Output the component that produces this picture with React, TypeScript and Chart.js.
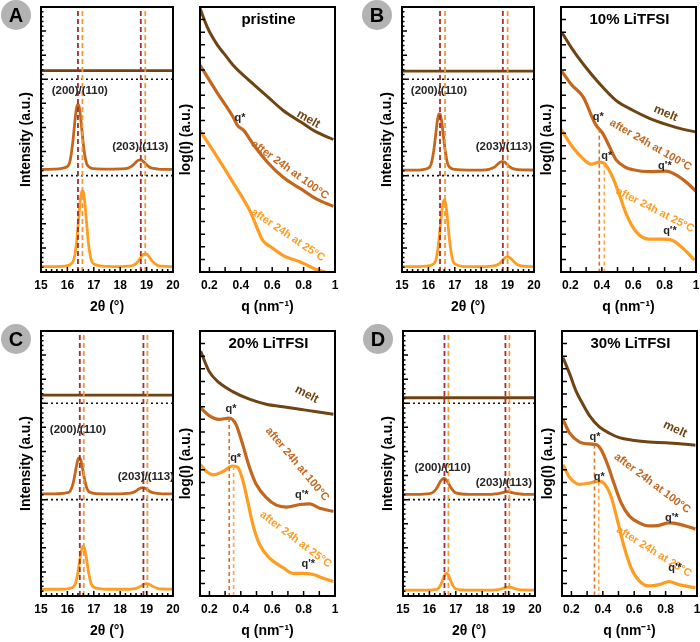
import { useEffect, useRef } from "react";
import { Chart, registerables } from "chart.js";

Chart.register(...registerables);

const FONT = "'Liberation Sans', Arial, Helvetica, sans-serif";

const MELT = "#6f4412";
const HOT = "#c4661c";
const COLD = "#ff9c22";
const RED_DASH = "#a0302e";
const ORANGE_DASH = "#f39a35";
const QDASH_HOT = "#d9742e";
const QDASH_COLD = "#ffa545";
const INK = "#262626";

// ---------- WAXS (2θ) ----------
const twoTheta = [15, 15.5, 16, 16.1, 16.2, 16.25, 16.3, 16.35, 16.4, 16.45, 16.5, 16.55, 16.6, 16.65, 16.7, 16.75, 16.8, 16.9, 17, 17.5, 18, 18.3, 18.5, 18.6, 18.7, 18.8, 18.9, 19, 19.1, 19.2, 19.4, 19.6, 20];
const twoThetaTicks = [15, 16, 17, 18, 19, 20];
const twoThetaLabels = ["15", "16", "17", "18", "19", "20"];
const meltRange = [15, 20];

const waxsPristineMelt = [8.36, 8.36];
const waxsPristine100 = [4.26, 4.27, 4.38, 4.61, 5.34, 5.88, 6.42, 6.83, 6.96, 6.83, 6.42, 5.88, 5.34, 4.91, 4.61, 4.45, 4.38, 4.31, 4.29, 4.27, 4.28, 4.31, 4.45, 4.56, 4.64, 4.64, 4.56, 4.45, 4.36, 4.31, 4.28, 4.26, 4.26];
const waxsPristine25 = [0.22, 0.22, 0.26, 0.3, 0.41, 0.54, 0.82, 1.27, 1.87, 2.51, 3.08, 3.37, 3.34, 2.99, 2.38, 1.75, 1.17, 0.51, 0.33, 0.23, 0.22, 0.24, 0.28, 0.35, 0.47, 0.63, 0.74, 0.74, 0.63, 0.47, 0.28, 0.24, 0.22];

const waxsLi10Melt = [8.34, 8.34];
const waxsLi10_100 = [4.23, 4.23, 4.32, 4.47, 5.01, 5.45, 5.92, 6.35, 6.56, 6.53, 6.27, 5.83, 5.36, 4.94, 4.63, 4.44, 4.36, 4.28, 4.26, 4.23, 4.23, 4.26, 4.35, 4.45, 4.55, 4.58, 4.55, 4.45, 4.35, 4.29, 4.25, 4.24, 4.23];
const waxsLi10_25 = [0.22, 0.22, 0.25, 0.28, 0.34, 0.41, 0.58, 0.88, 1.33, 1.88, 2.44, 2.85, 2.99, 2.85, 2.44, 1.88, 1.33, 0.58, 0.34, 0.22, 0.22, 0.23, 0.26, 0.29, 0.36, 0.47, 0.59, 0.63, 0.59, 0.47, 0.29, 0.24, 0.22];

const waxsLi20Melt = [8.34, 8.34];
const waxsLi20_100 = [4.24, 4.24, 4.29, 4.35, 4.6, 4.84, 5.14, 5.44, 5.67, 5.74, 5.67, 5.44, 5.14, 4.84, 4.6, 4.44, 4.35, 4.29, 4.26, 4.24, 4.24, 4.26, 4.3, 4.36, 4.44, 4.49, 4.49, 4.44, 4.36, 4.3, 4.26, 4.24, 4.24];
const waxsLi20_25 = [0.28, 0.28, 0.3, 0.32, 0.36, 0.41, 0.51, 0.71, 1.0, 1.35, 1.71, 1.98, 2.07, 1.98, 1.71, 1.35, 1.0, 0.51, 0.36, 0.28, 0.28, 0.28, 0.3, 0.32, 0.36, 0.42, 0.49, 0.51, 0.49, 0.42, 0.32, 0.29, 0.28];

const waxsLi30Melt = [8.23, 8.23];
const waxsLi30_100 = [4.22, 4.22, 4.25, 4.28, 4.37, 4.43, 4.52, 4.62, 4.72, 4.8, 4.86, 4.88, 4.86, 4.8, 4.72, 4.62, 4.52, 4.37, 4.28, 4.22, 4.22, 4.22, 4.24, 4.25, 4.27, 4.3, 4.33, 4.33, 4.3, 4.27, 4.24, 4.22, 4.22];
const waxsLi30_25 = [0.24, 0.24, 0.24, 0.25, 0.26, 0.27, 0.29, 0.33, 0.41, 0.52, 0.66, 0.8, 0.91, 0.94, 0.91, 0.8, 0.66, 0.41, 0.29, 0.24, 0.24, 0.24, 0.25, 0.26, 0.29, 0.32, 0.36, 0.37, 0.36, 0.32, 0.26, 0.25, 0.24];

// reflection positions (2θ) of the 100 °C and 25 °C samples
const reflPristine100 = [16.4, 18.78];
const reflPristine25 = [16.57, 18.95];
const reflLi10_100 = [16.44, 18.82];
const reflLi10_25 = [16.63, 19.0];
const reflLi20_100 = [16.47, 18.88];
const reflLi20_25 = [16.62, 19.03];
const reflLi30_100 = [16.57, 18.88];
const reflLi30_25 = [16.72, 19.03];

// ---------- SAXS (q) ----------
const qTicks = [0.2, 0.4, 0.6, 0.8, 1];
const qLabels = ["0.2", "0.4", "0.6", "0.8", "1"];

const qPristineMelt = [0.14, 0.19, 0.25, 0.3, 0.35, 0.46, 0.57, 0.67, 0.78, 0.88, 0.99];
const iPristineMelt = [20.9, 19.3, 18.0, 17.2, 16.4, 15.1, 13.9, 12.8, 11.9, 11.1, 10.5];
const qPristine100 = [0.14, 0.25, 0.35, 0.38, 0.42, 0.48, 0.57, 0.67, 0.78, 0.88, 0.99];
const iPristine100 = [16.4, 14.2, 12.3, 11.6, 11.2, 10.1, 8.7, 7.5, 6.6, 5.8, 5.2];
const qPristine25 = [0.14, 0.25, 0.35, 0.46, 0.54, 0.59, 0.67, 0.78, 0.88, 0.94];
const iPristine25 = [11.2, 9.1, 7.1, 4.8, 2.5, 2.0, 1.3, 0.8, 0.2, 0.0];

const qLi10Melt = [0.145, 0.21, 0.28, 0.38, 0.49, 0.6, 0.7, 0.81, 0.92, 1.0];
const iLi10Melt = [19.0, 17.7, 16.5, 15.0, 13.6, 12.8, 12.2, 11.7, 11.3, 11.1];
const qLi10_100 = [0.145, 0.21, 0.28, 0.36, 0.405, 0.45, 0.49, 0.55, 0.6, 0.7, 0.81, 0.92, 1.0];
const iLi10_100 = [15.9, 14.8, 13.9, 11.7, 11.0, 9.9, 8.9, 8.3, 8.1, 7.95, 8.0, 7.3, 6.4];
const qLi10_25 = [0.14, 0.214, 0.278, 0.331, 0.384, 0.416, 0.458, 0.501, 0.554, 0.618, 0.703, 0.788, 0.851, 0.915, 0.99];
const iLi10_25 = [11.3, 9.9, 9.0, 8.55, 8.7, 8.6, 7.8, 6.5, 4.65, 3.2, 2.6, 2.6, 2.5, 1.9, 0.95];

const qLi20Melt = [0.144, 0.198, 0.262, 0.348, 0.455, 0.562, 0.669, 0.776, 0.883, 0.99];
const iLi20Melt = [19.4, 17.8, 16.9, 16.2, 15.6, 15.2, 15.0, 14.8, 14.6, 14.4];
const qLi20_100 = [0.144, 0.198, 0.262, 0.326, 0.369, 0.412, 0.455, 0.498, 0.562, 0.626, 0.69, 0.776, 0.84, 0.904, 0.99];
const iLi20_100 = [14.9, 14.3, 14.0, 14.1, 13.6, 12.0, 10.2, 8.85, 7.8, 7.2, 7.05, 7.25, 7.3, 6.95, 6.7];
const qLi20_25 = [0.144, 0.187, 0.23, 0.283, 0.348, 0.38, 0.412, 0.444, 0.476, 0.519, 0.583, 0.669, 0.733, 0.797, 0.862, 0.926, 0.99];
const iLi20_25 = [10.4, 9.8, 9.6, 9.85, 10.3, 10.2, 9.2, 7.5, 5.7, 4.1, 3.0, 2.25, 1.8, 1.8, 1.7, 1.4, 1.15];

const qLi30Melt = [0.146, 0.189, 0.231, 0.273, 0.315, 0.378, 0.442, 0.505, 0.589, 0.695, 0.8, 0.906, 0.99];
const iLi30Melt = [18.9, 17.6, 16.2, 15.2, 14.3, 13.4, 12.9, 12.55, 12.35, 12.2, 12.15, 12.05, 11.95];
const qLi30_100 = [0.146, 0.189, 0.252, 0.315, 0.357, 0.389, 0.431, 0.473, 0.516, 0.568, 0.632, 0.695, 0.758, 0.821, 0.885, 0.99];
const iLi30_100 = [14.0, 12.9, 12.2, 12.05, 12.0, 11.6, 10.4, 8.85, 7.4, 6.35, 5.8, 5.55, 5.6, 5.8, 5.7, 5.3];
const qLi30_25 = [0.146, 0.189, 0.252, 0.315, 0.368, 0.41, 0.452, 0.494, 0.537, 0.579, 0.632, 0.695, 0.758, 0.821, 0.885, 0.99];
const iLi30_25 = [10.4, 9.4, 8.85, 8.95, 9.1, 8.9, 7.9, 5.95, 3.85, 2.25, 1.2, 0.8, 0.9, 1.15, 0.9, 0.65];

// q* marker: [q, intensity where the marker starts]
const qStarLi10 = [[0.384, 11.35], [0.416, 8.6]];
const qStarLi20 = [[0.326, 14.1], [0.354, 10.3]];
const qStarLi30 = [[0.347, 12.0], [0.374, 9.05]];

type Note = { text: string; x: number; y: number; angle?: number; color: string; size: number };

const hkl = (a: [number, number], b: [number, number]): Note[] => [
  { text: "(200)/(110)", x: a[0], y: a[1], color: INK, size: 11.5 },
  { text: "(203)/(113)", x: b[0], y: b[1], color: INK, size: 11.5 },
];

interface PanelDef {
  letter: string;
  title: string;
  left: number;
  top: number;
  melt: number[];
  w100: number[];
  w25: number[];
  refl100: number[];
  refl25: number[];
  waxsNotes: Note[];
  saxs: { q: number[]; i: number[]; color: string; width: number }[];
  qStar: number[][];
  saxsNotes: Note[];
}

const panels: PanelDef[] = [
  {
    letter: "A", title: "pristine", left: 0, top: 0,
    melt: waxsPristineMelt, w100: waxsPristine100, w25: waxsPristine25,
    refl100: reflPristine100, refl25: reflPristine25,
    waxsNotes: hkl([16.47, 7.52], [18.76, 5.19]),
    saxs: [
      { q: qPristineMelt, i: iPristineMelt, color: MELT, width: 3 },
      { q: qPristine100, i: iPristine100, color: HOT, width: 3.2 },
      { q: qPristine25, i: iPristine25, color: COLD, width: 3.2 },
    ],
    qStar: [],
    saxsNotes: [
      { text: "melt", x: 0.83, y: 12.1, angle: 30, color: MELT, size: 12 },
      { text: "after 24h at 100°C", x: 0.713, y: 8.08, angle: 36, color: HOT, size: 11 },
      { text: "after 24h at 25°C", x: 0.7, y: 2.93, angle: 34, color: COLD, size: 11 },
      { text: "q*", x: 0.395, y: 12.2, color: INK, size: 11 },
    ],
  },
  {
    letter: "B", title: "10% LiTFSI", left: 361, top: 0,
    melt: waxsLi10Melt, w100: waxsLi10_100, w25: waxsLi10_25,
    refl100: reflLi10_100, refl25: reflLi10_25,
    waxsNotes: hkl([16.4, 7.52], [18.86, 5.19]),
    saxs: [
      { q: qLi10Melt, i: iLi10Melt, color: MELT, width: 3 },
      { q: qLi10_100, i: iLi10_100, color: HOT, width: 3.2 },
      { q: qLi10_25, i: iLi10_25, color: COLD, width: 3.2 },
    ],
    qStar: qStarLi10,
    saxsNotes: [
      { text: "melt", x: 0.807, y: 12.57, angle: 23, color: MELT, size: 12 },
      { text: "after 24h at 100°C", x: 0.711, y: 10.06, angle: 30, color: HOT, size: 11 },
      { text: "after 24h at 25°C", x: 0.739, y: 4.91, angle: 27, color: COLD, size: 11 },
      { text: "q*", x: 0.378, y: 12.31, color: INK, size: 11 },
      { text: "q*", x: 0.431, y: 9.22, color: INK, size: 11 },
      { text: "q'*", x: 0.802, y: 8.42, color: INK, size: 11 },
      { text: "q'*", x: 0.834, y: 3.25, color: INK, size: 11 },
    ],
  },
  {
    letter: "C", title: "20% LiTFSI", left: 0, top: 324,
    melt: waxsLi20Melt, w100: waxsLi20_100, w25: waxsLi20_25,
    refl100: reflLi20_100, refl25: reflLi20_25,
    waxsNotes: hkl([16.4, 6.88], [18.97, 4.95]),
    saxs: [
      { q: qLi20Melt, i: iLi20Melt, color: MELT, width: 3 },
      { q: qLi20_100, i: iLi20_100, color: HOT, width: 3.2 },
      { q: qLi20_25, i: iLi20_25, color: COLD, width: 3.2 },
    ],
    qStar: qStarLi20,
    saxsNotes: [
      { text: "melt", x: 0.82, y: 15.98, angle: 28, color: MELT, size: 12 },
      { text: "after 24h at 100°C", x: 0.76, y: 10.44, angle: 50, color: HOT, size: 11 },
      { text: "after 24h at 25°C", x: 0.749, y: 4.49, angle: 37, color: COLD, size: 11 },
      { text: "q*", x: 0.337, y: 14.79, color: INK, size: 11 },
      { text: "q*", x: 0.367, y: 10.96, color: INK, size: 11 },
      { text: "q'*", x: 0.788, y: 7.98, color: INK, size: 11 },
      { text: "q'*", x: 0.83, y: 2.51, color: INK, size: 11 },
    ],
  },
  {
    letter: "D", title: "30% LiTFSI", left: 362, top: 324,
    melt: waxsLi30Melt, w100: waxsLi30_100, w25: waxsLi30_25,
    refl100: reflLi30_100, refl25: reflLi30_25,
    waxsNotes: hkl([16.5, 5.32], [18.82, 4.68]),
    saxs: [
      { q: qLi30Melt, i: iLi30Melt, color: MELT, width: 3 },
      { q: qLi30_100, i: iLi30_100, color: HOT, width: 3.2 },
      { q: qLi30_25, i: iLi30_25, color: COLD, width: 3.2 },
    ],
    qStar: qStarLi30,
    saxsNotes: [
      { text: "melt", x: 0.86, y: 13.21, angle: 25, color: MELT, size: 12 },
      { text: "after 24h at 100°C", x: 0.715, y: 8.93, angle: 37, color: HOT, size: 11 },
      { text: "after 24h at 25°C", x: 0.726, y: 3.51, angle: 32, color: COLD, size: 11 },
      { text: "q*", x: 0.35, y: 12.6, color: INK, size: 11 },
      { text: "q*", x: 0.378, y: 9.45, color: INK, size: 11 },
      { text: "q'*", x: 0.839, y: 6.2, color: INK, size: 11 },
      { text: "q'*", x: 0.86, y: 2.24, color: INK, size: 11 },
    ],
  },
];

// ---------- helpers ----------
function steps(from: number, to: number, step: number): number[] {
  const out: number[] = [];
  const n = Math.round((to - from) / step);
  for (let k = 0; k <= n; k++) out.push(+(from + k * step).toFixed(4));
  return out;
}

const pts = (xs: number[], ys: number[]) => xs.map((x, k) => ({ x, y: ys[k] }));

function curve(xs: number[], ys: number[], color: string, width: number) {
  return {
    data: pts(xs, ys),
    borderColor: color,
    borderWidth: width,
    pointRadius: 0,
    fill: false,
    cubicInterpolationMode: "monotone" as const,
  };
}

function segment(x0: number, y0: number, x1: number, y1: number, color: string, dash: number[], width: number) {
  return {
    data: [{ x: x0, y: y0 }, { x: x1, y: y1 }],
    borderColor: color,
    borderWidth: width,
    borderDash: dash,
    pointRadius: 0,
    fill: false,
  };
}

const boldFont = (size: number) => ({ family: FONT, size, weight: "bold" as const });

function xAxis(min: number, max: number, values: number[], labels: string[], title: string) {
  return {
    type: "linear" as const,
    min,
    max,
    afterBuildTicks: (s: any) => {
      s.ticks = values.map((v) => ({ value: v }));
    },
    ticks: {
      color: "#000",
      font: boldFont(12),
      padding: 6,
      maxRotation: 0,
      autoSkip: false,
      callback: (_v: any, k: number) => labels[k],
    },
    grid: { display: false, drawTicks: false },
    border: { display: false },
    title: { display: true, text: title, color: "#000", font: boldFont(14), padding: { top: 0, bottom: 0 } },
    afterFit: (s: any) => {
      s.height = 44;
      s.paddingLeft = 0;
      s.paddingRight = 0;
    },
  };
}

function yAxis(min: number, max: number, title: string, width: number, titlePad: number) {
  return {
    type: "linear" as const,
    min,
    max,
    ticks: { display: false },
    grid: { display: false, drawTicks: false },
    border: { display: false },
    title: { display: true, text: title, color: "#000", font: boldFont(14), padding: { top: titlePad, bottom: 0 } },
    afterFit: (s: any) => {
      s.width = width;
      s.paddingTop = 0;
      s.paddingBottom = 0;
    },
  };
}

type TickSet = { xMajor: number[]; xMinor: number[]; yMajor: number[]; yMinor: number[] };

function drawFrame(chart: any, t: TickSet) {
  const { ctx, chartArea: a, scales } = chart;
  const sx = scales.x;
  const sy = scales.y;
  ctx.save();
  ctx.strokeStyle = "#000";
  ctx.lineWidth = 1.5;
  ctx.beginPath();
  for (const v of t.xMajor) {
    const p = sx.getPixelForValue(v);
    ctx.moveTo(p, a.bottom);
    ctx.lineTo(p, a.bottom - 5);
  }
  for (const v of t.xMinor) {
    const p = sx.getPixelForValue(v);
    ctx.moveTo(p, a.bottom);
    ctx.lineTo(p, a.bottom - 3);
  }
  for (const v of t.yMajor) {
    const p = sy.getPixelForValue(v);
    ctx.moveTo(a.left, p);
    ctx.lineTo(a.left + 5, p);
  }
  for (const v of t.yMinor) {
    const p = sy.getPixelForValue(v);
    ctx.moveTo(a.left, p);
    ctx.lineTo(a.left + 2.5, p);
  }
  ctx.stroke();
  ctx.lineWidth = 2;
  ctx.strokeRect(a.left, a.top, a.right - a.left, a.bottom - a.top);
  ctx.restore();
}

function drawNotes(chart: any, notes: Note[]) {
  const { ctx, scales } = chart;
  for (const n of notes) {
    const px = scales.x.getPixelForValue(n.x);
    const py = scales.y.getPixelForValue(n.y);
    ctx.save();
    ctx.translate(px, py);
    ctx.rotate(((n.angle ?? 0) * Math.PI) / 180);
    ctx.font = `bold ${n.size}px ${FONT}`;
    ctx.fillStyle = n.color;
    ctx.textAlign = "center";
    ctx.textBaseline = "middle";
    ctx.fillText(n.text, 0, 0);
    ctx.restore();
  }
}

// ---------- chart configs ----------
const WAXS_W = 186;
const SAXS_X = 176;
const SAXS_W = 164;
const CHART_H = 322;

function waxsConfig(p: PanelDef): any {
  const ticks: TickSet = {
    xMajor: twoThetaTicks,
    xMinor: steps(15, 20, 0.2),
    yMajor: steps(0, 11, 1),
    yMinor: steps(0, 11, 0.2),
  };
  const datasets = [
    ...p.refl100.map((v) => segment(v, 0, v, 11, RED_DASH, [5, 3], 1.8)),
    ...p.refl25.map((v) => segment(v, 0, v, 11, ORANGE_DASH, [5, 3], 1.8)),
    segment(15, 8, 20, 8, "#111", [2, 3], 1.6),
    segment(15, 4, 20, 4, "#111", [2, 3], 1.6),
    curve(meltRange, p.melt, MELT, 2.8),
    curve(twoTheta, p.w100, HOT, 2.8),
    curve(twoTheta, p.w25, COLD, 2.8),
  ];
  return {
    type: "line",
    data: { datasets },
    options: {
      responsive: false,
      animation: false,
      events: [],
      layout: { padding: { left: 0, top: 7, right: 13, bottom: 6 } },
      plugins: { legend: { display: false }, tooltip: { enabled: false } },
      scales: {
        x: xAxis(15, 20, twoThetaTicks, twoThetaLabels, "2θ (°)"),
        y: yAxis(0, 11, "Intensity (a.u.)", 41, 18),
      },
    },
    plugins: [
      {
        id: "waxsDecor",
        afterDatasetsDraw(chart: any) {
          drawFrame(chart, ticks);
          drawNotes(chart, p.waxsNotes);
          const ctx = chart.ctx;
          ctx.save();
          ctx.fillStyle = "#b3b3b3";
          ctx.beginPath();
          ctx.arc(16, 15, 15, 0, Math.PI * 2);
          ctx.fill();
          ctx.fillStyle = "#000";
          ctx.font = `bold 20px ${FONT}`;
          ctx.textAlign = "center";
          ctx.textBaseline = "middle";
          ctx.fillText(p.letter, 16, 16);
          ctx.restore();
        },
      },
    ],
  };
}

function saxsConfig(p: PanelDef): any {
  const ticks: TickSet = {
    xMajor: steps(0.2, 1.0, 0.1),
    xMinor: [],
    yMajor: steps(1, 20, 1),
    yMinor: [],
  };
  const datasets = [
    ...p.qStar.map(([q, top], k) => segment(q, top, q, 0, k === 0 ? QDASH_HOT : QDASH_COLD, [4, 3], 1.6)),
    ...p.saxs.map((s) => curve(s.q, s.i, s.color, s.width)),
  ];
  return {
    type: "line",
    data: { datasets },
    options: {
      responsive: false,
      animation: false,
      events: [],
      layout: { padding: { left: 0, top: 7, right: 5, bottom: 6 } },
      plugins: { legend: { display: false }, tooltip: { enabled: false } },
      scales: {
        x: xAxis(0.14, 1.0, qTicks, qLabels, "q (nm⁻¹)"),
        y: yAxis(0, 21, "log(I) (a.u.)", 24, 2),
      },
    },
    plugins: [
      {
        id: "saxsDecor",
        afterDatasetsDraw(chart: any) {
          drawFrame(chart, ticks);
          drawNotes(chart, p.saxsNotes);
          const { ctx, chartArea: a } = chart;
          ctx.save();
          ctx.fillStyle = "#000";
          ctx.font = `bold 15px ${FONT}`;
          ctx.textAlign = "center";
          ctx.textBaseline = "middle";
          ctx.fillText(p.title, (a.left + a.right) / 2 + 1, a.top + 13);
          ctx.restore();
        },
      },
    ],
  };
}

function ChartCanvas({ left, top, width, height, make }: { left: number; top: number; width: number; height: number; make: () => any }) {
  const ref = useRef<HTMLCanvasElement>(null);
  useEffect(() => {
    const chart = new Chart(ref.current as HTMLCanvasElement, make());
    return () => chart.destroy();
  }, []);
  return (
    <canvas
      ref={ref}
      width={width}
      height={height}
      style={{ position: "absolute", left, top, width, height }}
    />
  );
}

export default function App() {
  return (
    <div
      style={{
        position: "absolute",
        left: 0,
        top: 0,
        width: 700,
        height: 642,
        overflow: "hidden",
        background: "#fff",
      }}
    >
      {panels.map((p) => (
        <div key={p.letter}>
          <ChartCanvas left={p.left} top={p.top} width={WAXS_W} height={CHART_H} make={() => waxsConfig(p)} />
          <ChartCanvas left={p.left + SAXS_X} top={p.top} width={SAXS_W} height={CHART_H} make={() => saxsConfig(p)} />
        </div>
      ))}
    </div>
  );
}
